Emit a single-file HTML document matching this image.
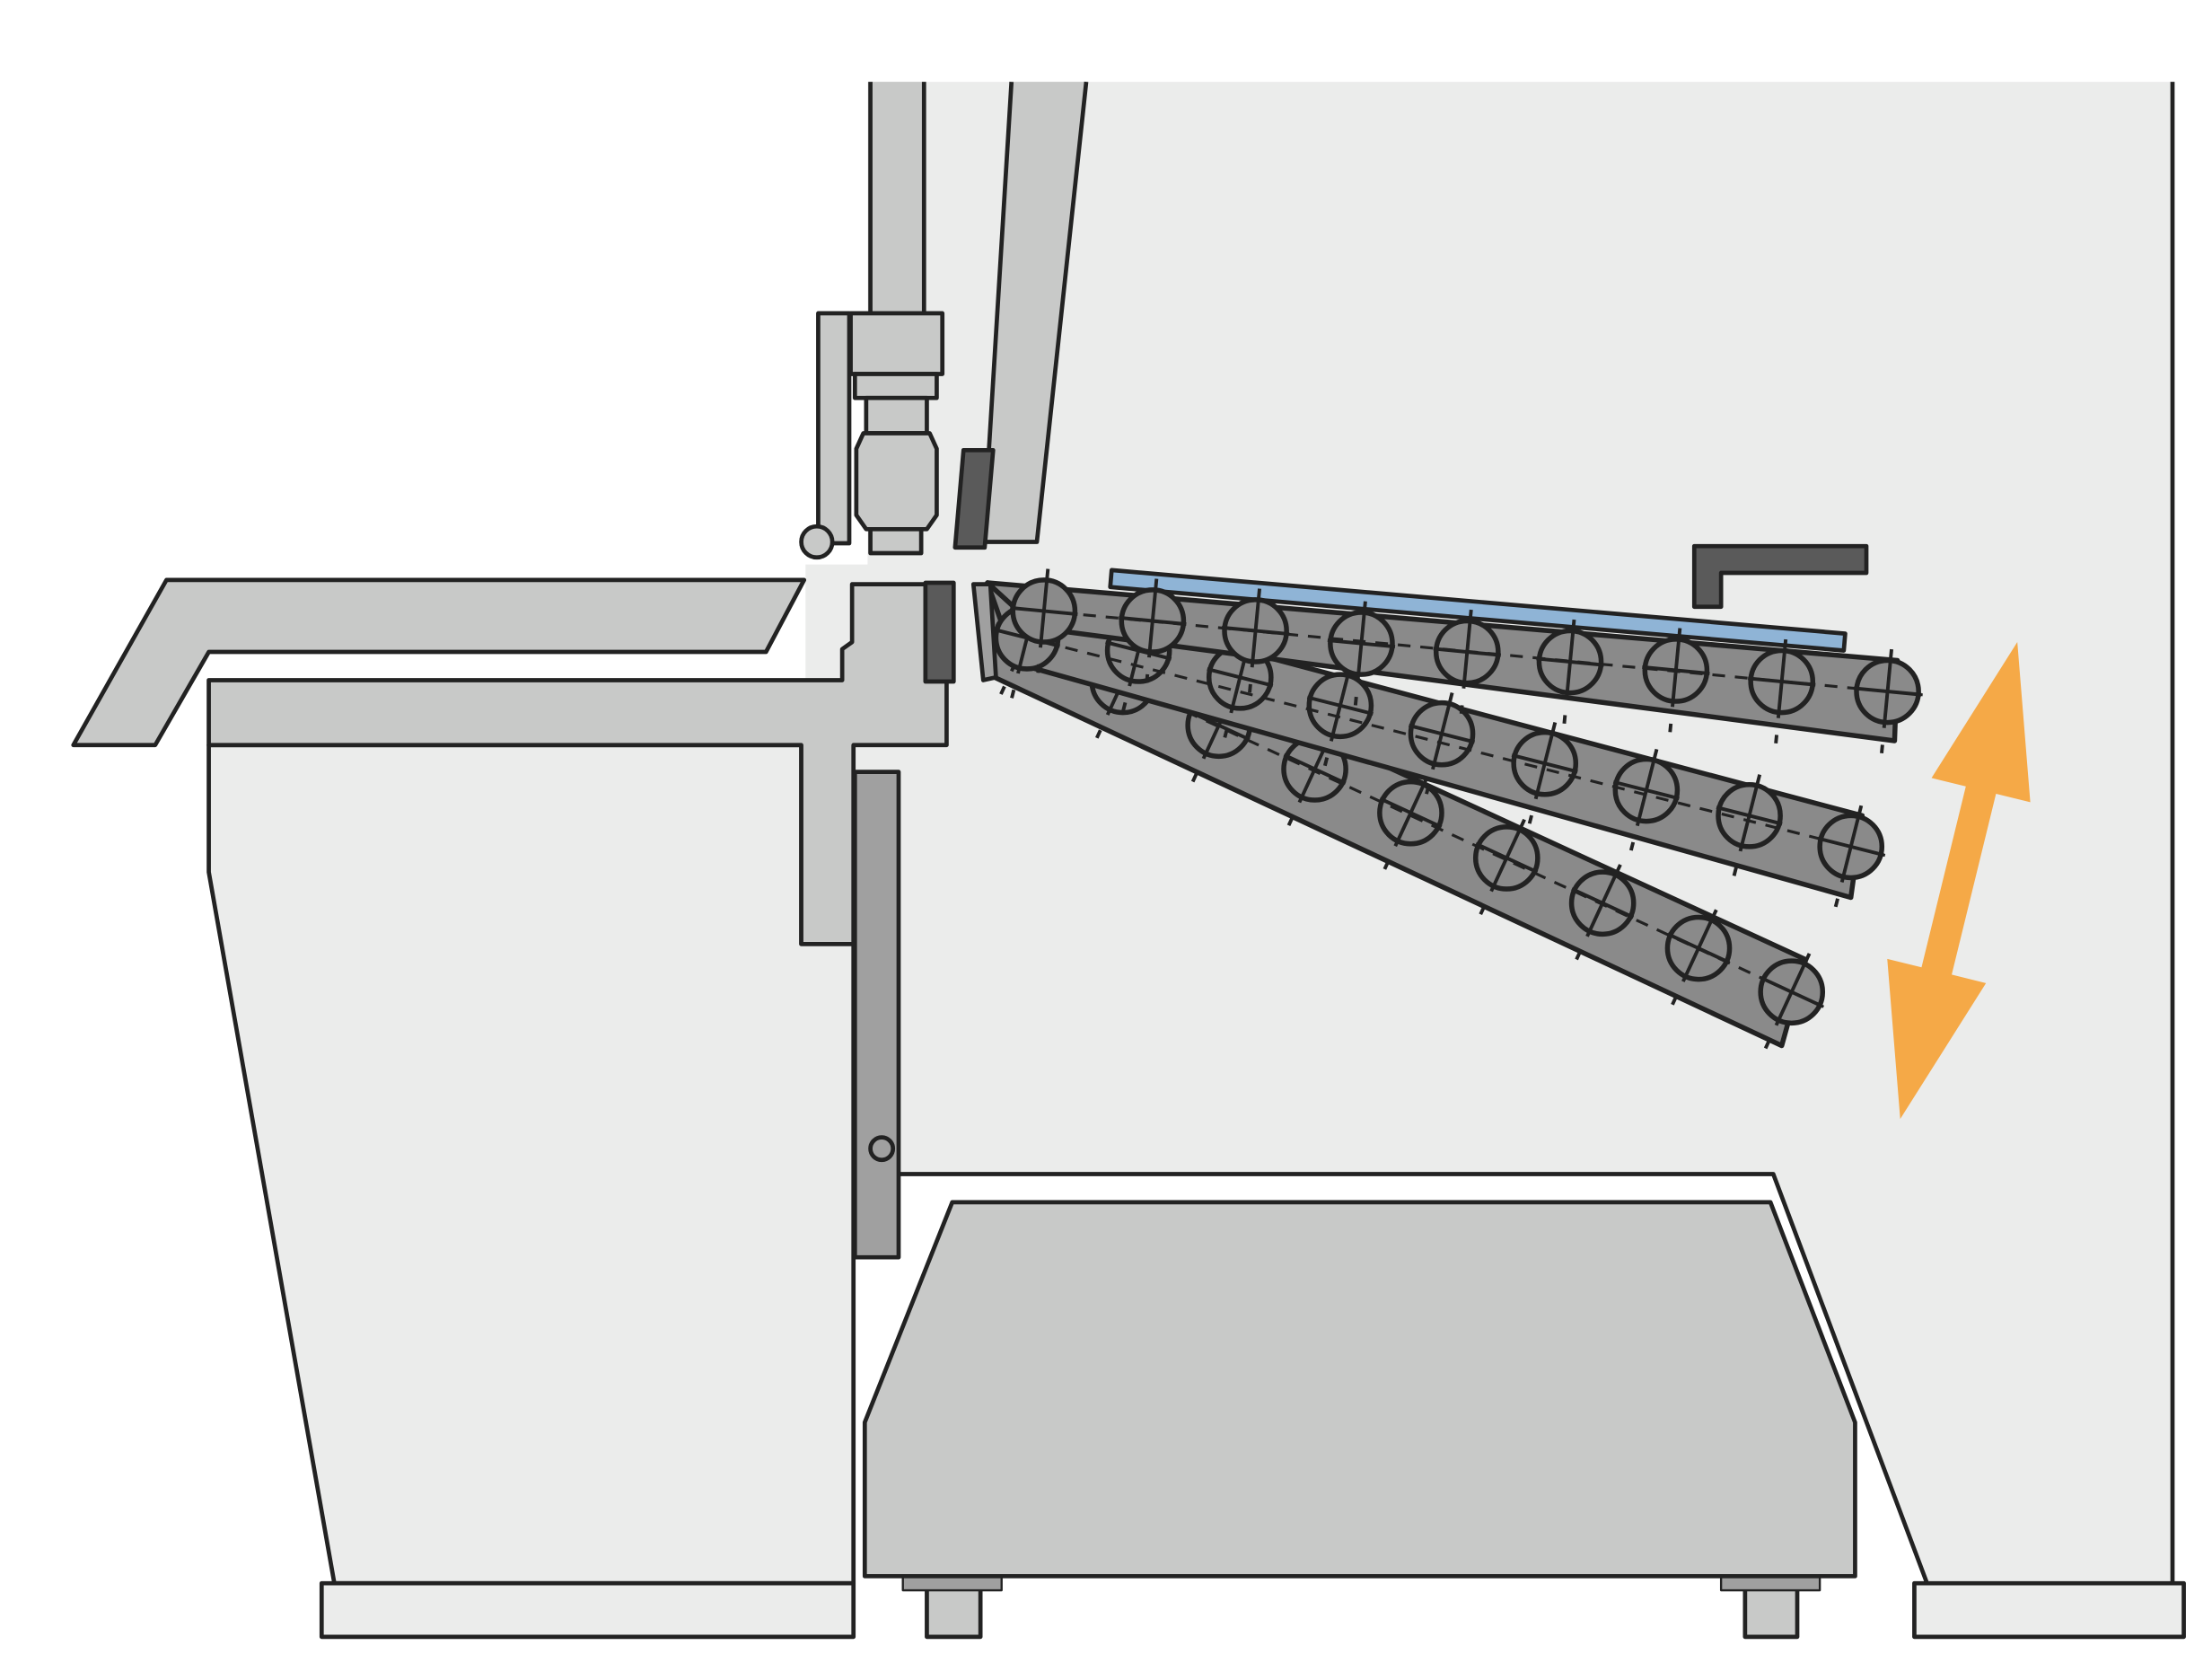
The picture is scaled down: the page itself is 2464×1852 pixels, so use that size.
<!DOCTYPE html>
<html><head><meta charset="utf-8"><style>html,body{margin:0;padding:0;background:#fff}svg{display:block}</style></head>
<body>
<svg id="s" width="2464" height="1852" viewBox="0 0 1568 1178.5" xmlns="http://www.w3.org/2000/svg" stroke="#222" stroke-width="3" stroke-linejoin="round">
<rect x="0" y="0" width="1568" height="1179" fill="#fff" stroke="none"/>
<polygon points="615,58 1540,58 1540,1122 1366,1122 1257,832 605,832 571,832 571,400 615,400" fill="#ebeceb" stroke="none"/>
<line x1="1540" y1="58" x2="1540" y2="1122"/>
<polyline points="637,832 1257,832 1366,1122" fill="none"/>
<!-- columns -->
<polygon points="617,58 655,58 655,224 617,224" fill="#c8c9c8" stroke="none"/>
<polyline points="617,58 617,224 655,224 655,58" fill="none"/>
<polygon points="717,58 770,58 735,384 697,384" fill="#c8c9c8" stroke="none"/>
<polyline points="717,58 697,384 735,384 770,58" fill="none"/>
<polygon points="683,319 704,319 698,388 677,388" fill="#5a5a5a"/>
<!-- cylinder -->
<rect x="580" y="222" width="22" height="163" fill="#c8c9c8"/>
<circle cx="579" cy="384" r="11" fill="#c8c9c8"/>
<rect x="603" y="222" width="65" height="43" fill="#c8c9c8"/>
<rect x="606" y="265" width="58" height="17" fill="#c8c9c8"/>
<rect x="614" y="282" width="43" height="25" fill="#c8c9c8"/>
<polygon points="612,307 659,307 664,318 664,365 657,375 614,375 607,365 607,318" fill="#c8c9c8"/>
<rect x="617" y="375" width="36" height="17" fill="#c8c9c8"/>
<!-- left table -->
<polygon points="118,411 570,411 543,462 148,462 110,528 52,528" fill="#c8c9c8"/>
<polygon points="148,528 568,528 568,669 605,669 605,1122 237,1122 148,618" fill="#ebeceb"/>
<polygon points="148,482 597,482 597,460 604,455 604,414 671,414 671,528 605,528 605,669 568,669 568,528 148,528" fill="#c8c9c8"/>
<rect x="228" y="1122" width="377" height="38" fill="#ebeceb"/>
<rect x="1357" y="1122" width="191" height="38" fill="#ebeceb"/>
<rect x="656" y="413" width="20" height="70" fill="#5a5a5a"/>
<rect x="606" y="547" width="31" height="344" fill="#a0a0a0"/>
<circle cx="625" cy="814" r="8" fill="#a0a0a0"/>
<!-- cart -->
<rect x="657" y="1117" width="38" height="43" fill="#c8c9c8"/>
<rect x="1237" y="1117" width="37" height="43" fill="#c8c9c8"/>
<rect x="640" y="1117" width="70" height="10" fill="#a0a0a0" stroke-width="1.5"/>
<rect x="1220" y="1117" width="70" height="10" fill="#a0a0a0" stroke-width="1.5"/>
<polygon points="675,852 1255,852 1315,1008 1315,1117 613,1117 613,1008" fill="#c8c9c8"/>
<!-- blue bar & bracket -->
<polygon points="788,404 1308,449 1307,461 787,416" fill="#8fb4d6"/>
<polygon points="1201,387 1323,387 1323,406 1220,406 1220,430 1201,430" fill="#5a5a5a"/>
<!-- arrow -->
<polygon points="1430,455 1439.2,568.5 1414.9,562.5 1383.5,690.7 1407.8,696.7 1347,793 1337.8,679.5 1362.1,685.5 1393.5,557.3 1369.2,551.3" fill="#f5a947" stroke="none"/>
<g id="arms"></g>
<polygon points="690,414 702,414 706,480 697,482" fill="#a0a0a0"/>
</svg>
<script>
var NS="http://www.w3.org/2000/svg",g=document.getElementById("arms");
function el(t,a){var e=document.createElementNS(NS,t);for(var k in a)e.setAttribute(k,a[k]);g.appendChild(e);return e;}
var arms=[
 {poly:"700,413 1280,680 1263,741 705,480",c:[[728,452],[796,483],[864,514],[932,545],[1000,576],[1068,608],[1136,640],[1204,672],[1270,703]]},
 {poly:"700,413 1320,578 1312,636 720,470",c:[[728,452],[807,461],[879,480],[950,500],[1022,520],[1095,541],[1167,560],[1240,578],[1312,600]]},
 {poly:"700,413 1345,468 1343,525 735,445",c:[[740,433],[817,440],[890,447],[965,456],[1040,462],[1113,469],[1188,475],[1263,483],[1338,490]]}
];
arms.forEach(function(a){
 var c=a.c,f=c[0],l=c[c.length-1],dx=l[0]-f[0],dy=l[1]-f[1],L=Math.hypot(dx,dy),ux=dx/L,uy=dy/L,nx=-uy,ny=ux;
 el("polygon",{points:a.poly,fill:"#8a8a8a","stroke-width":3.5});
 c.forEach(function(p){el("circle",{cx:p[0],cy:p[1],r:22,fill:"#8a8a8a","stroke-width":3.5});});
 el("line",{x1:f[0]-20*ux,y1:f[1]-20*uy,x2:l[0]+25*ux,y2:l[1]+25*uy,"stroke-dasharray":"9 7","stroke-width":2});
 c.forEach(function(p){
  el("line",{x1:p[0]-24*ux,y1:p[1]-24*uy,x2:p[0]+24*ux,y2:p[1]+24*uy,"stroke-width":2.5});
  el("line",{x1:p[0]-30*nx,y1:p[1]-30*ny,x2:p[0]+26*nx,y2:p[1]+26*ny,"stroke-width":2.5});
  el("line",{x1:p[0]+38*nx,y1:p[1]+38*ny,x2:p[0]+44*nx,y2:p[1]+44*ny,"stroke-width":2.5});
 });
});
</script>
</body></html>
